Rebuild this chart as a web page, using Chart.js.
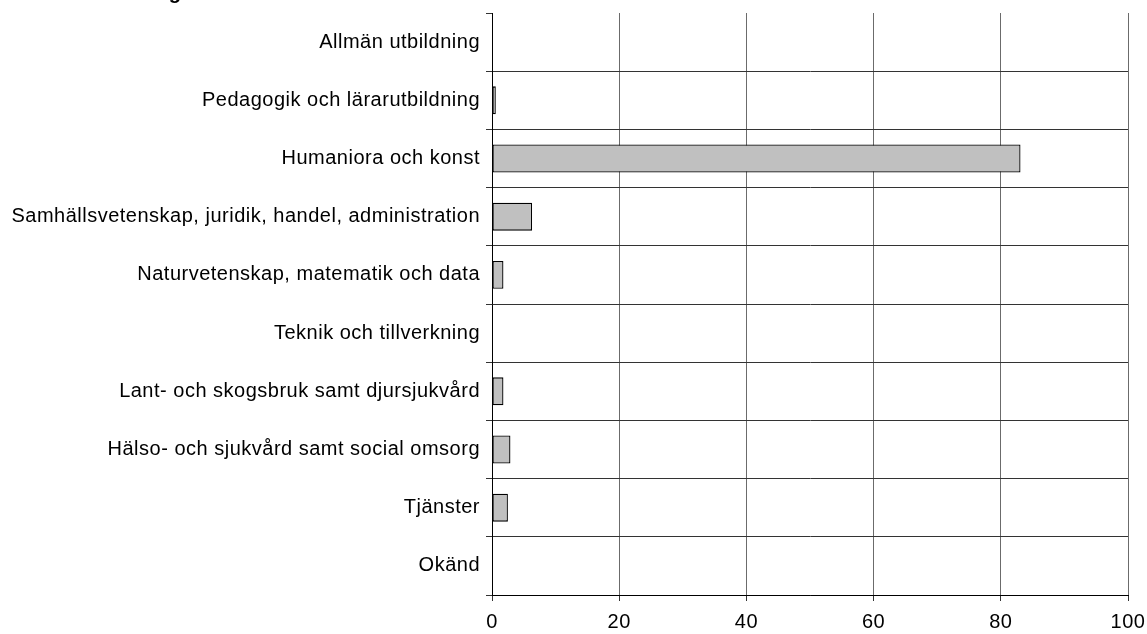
<!DOCTYPE html>
<html>
<head>
<meta charset="utf-8">
<script src="https://cdn.jsdelivr.net/npm/chart.js@4/dist/chart.umd.min.js"></script>
<style>
  html, body { margin: 0; padding: 0; background: #fff; }
  canvas { display: block; }
</style>
</head>
<body>
<canvas id="c" width="1147" height="634"></canvas>
<script>
const titleText = "Inriktning";
const categories = [
  "Allmän utbildning",
  "Pedagogik och lärarutbildning",
  "Humaniora och konst",
  "Samhällsvetenskap, juridik, handel, administration",
  "Naturvetenskap, matematik och data",
  "Teknik och tillverkning",
  "Lant- och skogsbruk samt djursjukvård",
  "Hälso- och sjukvård samt social omsorg",
  "Tjänster",
  "Okänd"
];
const values = [0, 0.6, 83.1, 6.3, 1.8, 0, 1.8, 2.9, 2.5, 0];
const xMin = 0, xMax = 100, xStep = 20;

const FONT = "Liberation Sans, Arial, sans-serif";
const SPACING = '0.5px';

const spacingPlugin = {
  id: 'spacing',
  beforeUpdate(c) { c.ctx.letterSpacing = SPACING; },
  beforeLayout(c) { c.ctx.letterSpacing = SPACING; },
  beforeDraw(c) { c.ctx.letterSpacing = SPACING; }
};

const titlePlugin = {
  id: 'cutTitle',
  afterDraw(c) {
    const ctx = c.ctx;
    ctx.save();
    ctx.letterSpacing = '0px';
    ctx.font = 'bold 20px ' + FONT;
    ctx.textAlign = 'right';
    ctx.textBaseline = 'alphabetic';
    ctx.fillStyle = '#000';
    ctx.fillText(titleText, 181, -1.5);
    ctx.restore();
  }
};

new Chart(document.getElementById('c'), {
  type: 'bar',
  data: {
    labels: categories,
    datasets: [{
      data: values,
      backgroundColor: '#c0c0c0',
      borderColor: '#000',
      borderWidth: 1.3,
      borderSkipped: false,
      barPercentage: 0.48,
      categoryPercentage: 1
    }]
  },
  options: {
    indexAxis: 'y',
    responsive: false,
    animation: false,
    devicePixelRatio: 1,
    layout: { padding: { top: 13, right: 19, left: 0, bottom: 0 } },
    plugins: { legend: { display: false }, tooltip: { enabled: false }, title: { display: false } },
    scales: {
      x: {
        min: xMin, max: xMax,
        afterFit(s) { s.height = 39; s.paddingLeft = 0; s.paddingRight = 0; },
        ticks: { stepSize: xStep, color: '#000', font: { family: FONT, size: 20 }, padding: 9, maxRotation: 0 },
        grid: { color: '#6b6b6b', lineWidth: 1, tickLength: 6, tickColor: '#333' },
        border: { color: '#000', width: 1 }
      },
      y: {
        afterFit(s) { s.width = 492; s.paddingTop = 0; s.paddingBottom = 0; },
        ticks: { color: '#000', font: { family: FONT, size: 20 }, padding: 6, autoSkip: false },
        grid: {
          offset: true,
          color: (ctx) => ctx.index === 0 ? 'rgba(0,0,0,0)' : '#333',
          tickColor: '#333',
          tickLength: 6,
          lineWidth: 1
        },
        border: { color: '#000', width: 1 }
      }
    }
  },
  plugins: [spacingPlugin, titlePlugin]
});
</script>
</body>
</html>
